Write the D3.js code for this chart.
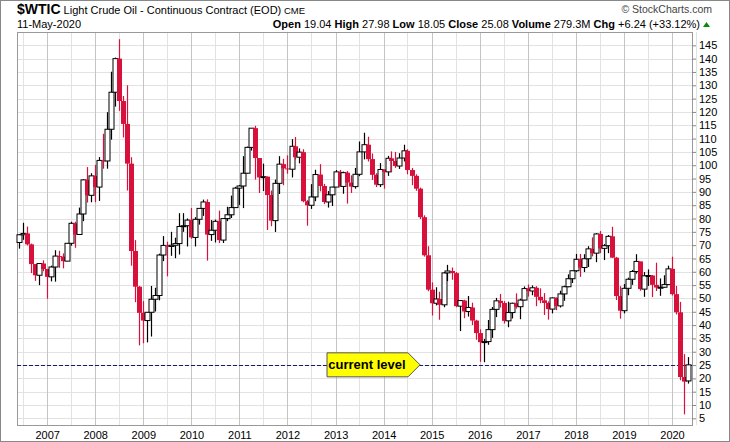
<!DOCTYPE html>
<html><head><meta charset="utf-8">
<script src="https://cdn.jsdelivr.net/npm/d3@7"></script>
<style>body{margin:0;background:#fff}svg{font-family:Arial,"Liberation Sans",sans-serif}</style>
</head><body><svg id="chart" width="730" height="442"></svg>
<script>
// monthly bars, Jun 2006 .. May 2020, [open, high, low, close]
var startMonth = [2006, 5];
var ohlc = [
 [71.0,74.2,68.7,73.9],[73.9,78.4,72.0,74.4],[74.4,77.0,69.9,70.3],[70.3,70.6,59.5,62.9],[62.9,62.9,56.6,58.7],[58.7,62.5,55.0,63.1],[63.1,64.3,60.2,61.05],
 [61.05,61.1,49.9,58.1],[58.1,62.3,56.4,61.8],[61.8,68.1,56.3,65.9],[65.9,67.9,61.5,65.7],[65.7,66.9,61.3,64.0],[64.0,70.8,64.0,70.7],[70.7,78.8,69.8,78.2],[78.2,78.8,69.0,74.0],[74.0,84.1,73.9,81.7],[81.7,94.7,79.0,94.5],[94.5,99.3,86.0,88.7],[88.7,97.0,86.1,96.0],
 [96.0,100.1,86.1,91.8],[91.8,103.05,86.6,101.8],[101.8,111.8,98.7,101.6],[101.6,119.9,98.7,113.5],[113.5,135.1,109.6,127.4],[127.4,140.4,122.0,140.0],[140.0,147.3,120.4,124.1],[124.1,126.0,110.4,115.5],[115.5,130.0,90.5,100.6],[100.6,103.0,62.3,67.8],[67.8,71.9,48.6,54.4],[54.4,54.7,32.4,44.6],
 [44.6,49.0,33.2,41.7],[41.7,44.9,33.5,44.8],[44.8,54.7,35.7,49.7],[49.7,54.0,45.1,51.1],[51.1,66.8,49.3,66.3],[66.3,73.4,64.0,69.9],[69.9,71.3,58.3,69.5],[69.5,75.0,66.0,69.96],[69.96,72.8,65.1,70.6],[70.6,82.0,66.5,77.0],[77.0,82.0,75.0,77.3],[77.3,80.0,69.5,79.4],
 [79.4,83.95,72.4,72.9],[72.9,80.5,69.5,79.7],[79.7,83.2,77.7,83.8],[83.8,87.1,81.0,86.2],[86.2,87.2,64.2,73.97],[73.97,79.4,71.6,75.6],[75.6,79.6,71.0,78.95],[78.95,82.97,70.8,71.9],[71.9,80.0,70.8,79.97],[79.97,84.4,79.0,81.4],[81.4,88.6,80.2,84.1],[84.1,91.9,84.1,91.4],
 [91.4,92.6,85.1,92.2],[92.2,103.4,83.9,97.0],[97.0,107.0,96.9,106.7],[106.7,113.9,105.5,113.9],[113.9,114.8,94.6,102.7],[102.7,102.6,89.6,95.4],[95.4,100.6,90.3,95.7],[95.7,95.8,75.7,88.8],[88.8,90.5,77.1,79.2],[79.2,94.6,74.95,93.2],[93.2,103.4,89.2,100.4],[100.4,102.4,92.5,98.8],
 [98.8,103.7,96.8,98.5],[98.5,109.8,95.4,107.1],[107.1,110.6,102.1,103.0],[103.0,106.3,100.7,104.9],[104.9,106.0,86.1,86.5],[86.5,86.9,77.3,84.96],[84.96,92.9,83.6,88.1],[88.1,98.3,86.5,96.5],[96.5,100.4,90.2,92.2],[92.2,93.0,85.4,86.2],[86.2,90.3,84.1,88.9],[88.9,91.9,84.7,91.8],
 [91.8,98.2,91.8,97.5],[97.5,98.2,92.0,92.05],[92.05,97.6,89.3,97.2],[97.2,97.8,85.6,93.5],[93.5,96.2,89.6,91.97],[91.97,99.0,91.2,96.6],[96.6,108.9,95.9,105.0],[105.0,112.2,102.2,107.7],[107.7,110.7,101.4,102.3],[102.3,104.4,94.5,96.4],[96.4,97.0,91.8,92.7],[92.7,100.8,91.8,98.4],
 [98.4,98.4,91.2,97.5],[97.5,103.5,96.0,102.6],[102.6,105.2,97.4,101.6],[101.6,104.99,99.0,99.7],[99.7,104.5,98.6,102.7],[102.7,107.7,101.4,105.4],[105.4,106.0,96.6,98.2],[98.2,99.0,92.5,96.0],[96.0,96.6,90.4,91.2],[91.2,91.6,79.8,80.5],[80.5,81.2,65.7,66.2],[66.2,69.6,52.7,53.3],
 [53.3,56.0,43.6,48.2],[48.2,54.2,47.4,49.8],[49.8,52.5,42.0,47.6],[47.6,59.9,46.7,59.6],[59.6,62.6,56.5,60.3],[60.3,61.6,57.0,59.5],[59.5,59.9,46.7,47.1],[47.1,49.3,37.75,49.2],[49.2,49.5,42.6,45.1],[45.1,50.9,43.2,46.6],[46.6,48.4,40.0,41.7],[41.7,42.0,34.5,37.0],
 [37.0,38.4,26.2,33.6],[33.6,34.8,26.05,33.8],[33.8,41.9,32.6,38.3],[38.3,46.8,35.2,45.9],[45.9,50.2,43.0,49.1],[49.1,51.7,46.6,48.3],[48.3,49.0,40.6,41.6],[41.6,48.8,39.2,44.7],[44.7,48.4,42.5,48.2],[48.2,51.9,46.2,46.9],[46.9,49.9,42.2,49.4],[49.4,54.5,49.2,53.7],
 [53.7,55.2,50.7,52.8],[52.8,54.9,51.2,54.0],[54.0,54.6,47.1,50.6],[50.6,53.8,48.2,49.3],[49.3,52.0,43.8,48.3],[48.3,48.9,42.05,46.0],[46.0,50.4,44.4,50.2],[50.2,50.4,45.6,47.2],[47.2,52.9,46.6,51.7],[51.7,54.8,49.1,54.4],[54.4,59.05,54.2,57.4],[57.4,60.5,55.8,60.4],
 [60.4,66.7,59.9,64.7],[64.7,66.7,58.1,61.6],[61.6,66.6,59.9,64.9],[64.9,69.6,61.8,68.6],[68.6,72.9,65.8,67.0],[67.0,74.5,63.6,74.2],[74.2,75.3,67.0,68.8],[68.8,70.4,64.4,69.8],[69.8,73.8,67.0,73.3],[73.3,76.9,65.3,65.3],[65.3,65.6,49.4,50.9],[50.9,54.6,42.4,45.4],
 [45.4,55.4,44.4,53.8],[53.8,57.8,51.2,57.2],[57.2,60.7,55.1,60.1],[60.1,66.6,59.3,63.9],[63.9,63.8,52.9,53.5],[53.5,59.9,50.6,58.5],[58.5,60.9,54.7,58.6],[58.6,58.8,50.5,55.1],[55.1,63.4,52.8,54.1],[54.1,57.5,50.99,54.2],[54.2,58.7,54.0,55.2],[55.2,62.3,55.4,61.1],
 [61.1,65.65,51.1,51.6],[51.6,54.7,44.0,44.8],[44.8,48.7,19.3,20.5],[20.5,29.1,6.5,18.8],[19.04,27.98,18.05,25.08]
];
var priceTicks = d3.range(5, 150, 5);
var yearLabels = d3.range(2007, 2021);
var currentLevel = 25.08;

var svg = d3.select("#chart");
var L = 17, T = 32, R = 692, B = 425;

var x = d3.scaleTime()
  .domain([new Date(2006, 4, 17), new Date(2020, 5, 1)])
  .range([L, R]);
var y = d3.scaleLinear().domain([2.5, 150]).range([B, T]);

var dates = ohlc.map(function (d, i) { return new Date(startMonth[0], startMonth[1] + i, 1); });

// grid
svg.append("g").selectAll("line").data(priceTicks).join("line")
  .attr("x1", L).attr("x2", R).attr("y1", d => Math.round(y(d)) + 0.5).attr("y2", d => Math.round(y(d)) + 0.5)
  .attr("stroke", "#e2e2e2");
var halfYears = d3.timeMonth.every(6).range(new Date(2006, 6, 1), new Date(2020, 7, 1));
svg.append("g").selectAll("line").data(halfYears).join("line")
  .attr("x1", d => Math.round(x(d)) + 0.5).attr("x2", d => Math.round(x(d)) + 0.5)
  .attr("y1", T).attr("y2", B)
  .attr("stroke", d => d.getMonth() === 0 ? "#c4c4c4" : "#e2e2e2");

// frame
svg.append("rect").attr("x", L + 0.5).attr("y", T + 0.5).attr("width", R - L).attr("height", B - T)
  .attr("fill", "none").attr("stroke", "#999");
svg.append("rect").attr("x", 0.5).attr("y", 0.5).attr("width", 729).attr("height", 441)
  .attr("fill", "none").attr("stroke", "#888");

// right axis
var ya = svg.append("g").attr("transform", "translate(" + R + ",0)")
  .call(d3.axisRight(y).tickValues(priceTicks).tickSize(4).tickPadding(3));
ya.select(".domain").remove();
ya.selectAll("line").attr("stroke", "#888");
ya.selectAll("text").attr("font-size", 11).attr("fill", "#000");

// bottom axis
var xa = svg.append("g").attr("transform", "translate(0," + B + ")")
  .call(d3.axisBottom(x).tickValues(yearLabels.map(v => new Date(v, 0, 1))).tickFormat(d3.timeFormat("%Y")).tickSize(0).tickPadding(6));
xa.select(".domain").remove();
xa.selectAll("text").attr("font-size", 11).attr("fill", "#000");

// current level line
svg.append("line").attr("x1", L).attr("x2", R)
  .attr("y1", Math.round(y(currentLevel)) + 0.5).attr("y2", Math.round(y(currentLevel)) + 0.5)
  .attr("stroke", "#1a1a6a").attr("stroke-dasharray", "4,2");

// candles
var red = "#d8103c";
var g = svg.append("g");
ohlc.forEach(function (d, i) {
  var cx = Math.round(x(dates[i])) + 0.5, up = d[3] >= d[0];
  var col = up ? "#000" : red;
  g.append("line").attr("x1", cx).attr("x2", cx).attr("y1", y(d[1])).attr("y2", y(d[2]))
    .attr("stroke", col).attr("stroke-width", 1.2);
  var top = y(Math.max(d[0], d[3])), bot = y(Math.min(d[0], d[3]));
  g.append("rect").attr("x", cx - 2.5).attr("y", top).attr("width", 5).attr("height", Math.max(1, bot - top))
    .attr("fill", up ? "#fff" : red).attr("stroke", up ? "#000" : "none").attr("stroke-width", 1);
});

// annotation
var ay = y(currentLevel);
svg.append("path")
  .attr("d", "M327," + (ay - 12) + " L408," + (ay - 12) + " L420," + ay + " L408," + (ay + 12) + " L327," + (ay + 12) + " Z")
  .attr("fill", "#ffff00").attr("stroke", "#555");
svg.append("text").attr("x", 367).attr("y", ay + 4.5).attr("text-anchor", "middle")
  .attr("font-size", 13).attr("font-weight", "bold").text("current level");

// header
var h = svg.append("text").attr("x", 17).attr("y", 14).attr("font-size", 11);
h.append("tspan").attr("font-weight", "bold").attr("font-size", 14).text("$WTIC");
h.append("tspan").text(" Light Crude Oil - Continuous Contract (EOD)");
h.append("tspan").attr("font-size", 9.5).text(" CME");
svg.append("text").attr("x", 17).attr("y", 28).attr("font-size", 11).text("11-May-2020");
svg.append("text").attr("x", 712).attr("y", 13).attr("font-size", 10.5).attr("text-anchor", "end").attr("fill", "#444").text("© StockCharts.com");
var s = svg.append("text").attr("x", 700).attr("y", 28).attr("font-size", 11).attr("text-anchor", "end");
[["Open", " 19.04 "], ["High", " 27.98 "], ["Low", " 18.05 "], ["Close", " 25.08 "], ["Volume", " 279.3M "], ["Chg", " +6.24 (+33.12%)"]].forEach(function (p) {
  s.append("tspan").attr("font-weight", "bold").text(p[0]);
  s.append("tspan").text(p[1]);
});
svg.append("path").attr("d", "M703,27 L710,27 L706.5,22 Z").attr("fill", "#0a8a0a");
</script></body></html>
